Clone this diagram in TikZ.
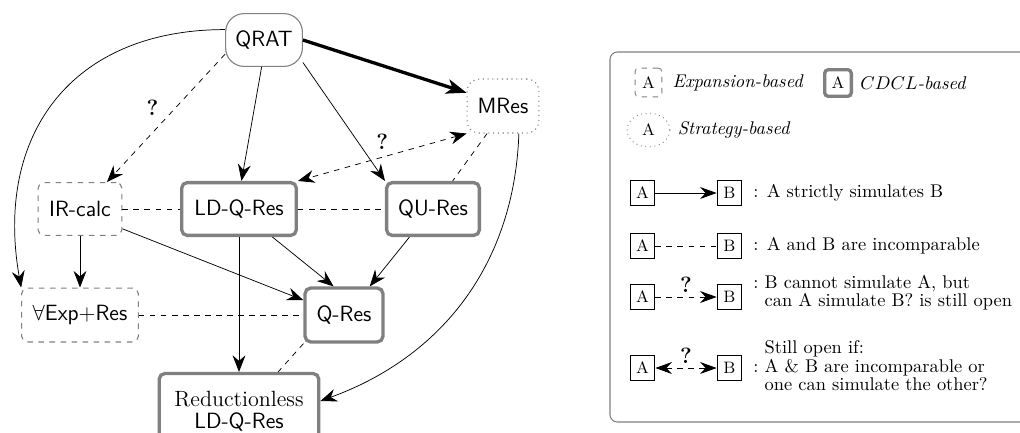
\documentclass[tikz,border=0pt]{standalone}
\usetikzlibrary{arrows.meta, shapes.geometric, positioning}
\renewcommand{\arraystretch}{0.78}

\begin{document}
\begin{tikzpicture}[x=0.0191cm, y=0.0191cm,
            sys/.style={draw=gray, rounded corners=3pt, minimum height=28.7pt, inner xsep=3pt, font=\large\sffamily},
            cdcl/.style={sys, line width=1.8pt},
            expan/.style={sys, dashed, line width=0.6pt},
            strat/.style={sys, dotted, line width=0.6pt, rounded corners=6.5pt},
            sim/.style={-{Stealth[length=9pt, width=7pt, inset=3pt]}},
            qopen/.style={dashed, arrows={Stealth[length=9pt, width=7pt, inset=3pt]-Stealth[length=9pt, width=7pt, inset=3pt]}},
            qmark/.style={font=\large\bfseries, inner sep=1pt},
            key/.style={draw, line width=0.5pt, font=\small, inner sep=0pt, minimum size=13.5pt},
            lsim/.style={-{Stealth[length=9pt, width=6.5pt, inset=3pt]}},
            lboth/.style={arrows={Stealth[length=9pt, width=6.5pt, inset=3pt]-Stealth[length=9pt, width=6.5pt, inset=3pt]}}]
        \useasboundingbox (0,0) rectangle (1020,432);

        % proof systems
        \node[sys, line width=0.6pt, rounded corners=10pt, minimum width=41.7pt] (qrat) at (264,392) {QRAT};
        \node[strat, minimum width=39pt, minimum height=29.3pt] (mres) at (503,326) {MRes};
        \node[expan, minimum width=45.5pt] (ircalc) at (80,223) {IR-calc};
        \node[cdcl, minimum width=62.3pt] (ldq) at (239,223) {LD-Q-Res};
        \node[cdcl, minimum width=50.4pt] (qures) at (433,223) {QU-Res};
        \node[expan, minimum width=63.4pt, minimum height=29.3pt] (aexp) at (80,117) {$\forall$Exp+Res};
        \node[cdcl, minimum width=42.3pt, minimum height=29.3pt] (qres) at (344,117) {Q-Res};
        \node[cdcl, align=center, font=\fontsize{12}{11.8}\selectfont, minimum width=86.7pt, minimum height=40.7pt] (redl) at (239,21) {Reductionless\\\textsf{LD-Q-Res}};

        % simulations
        \draw[line width=1.8pt, -{Stealth[length=11pt, width=8pt, inset=3pt]}] (qrat.east) -- (mres.160);
        \draw[sim, dashed] (qrat.200) -- node[qmark, above left=0pt and 3pt] {?} (ircalc.45);
        \draw[sim] (qrat.265) -- (ldq.85);
        \draw[sim] (qrat.-30) -- (qures.north west);
        \draw[sim] (qrat.165) to[out=180, in=100, looseness=1.2] (aexp.north west);
        \draw[qopen] (mres.south west) -- node[qmark, above=3pt] {?} (ldq.north east);
        \draw[dashed] (mres.-120) -- (qures.55);
        \draw[sim] (mres.-60) to[out=-92, in=20] (redl.7);
        \draw[dashed] (ircalc) -- (ldq);
        \draw[dashed] (ldq) -- (qures);
        \draw[sim] (ircalc) -- (aexp);
        \draw[sim] (ircalc.-25) -- (qres.160);
        \draw[sim] (ldq.-40) -- (qres.110);
        \draw[sim] (qures.-130) -- (qres.48);
        \draw[sim] (ldq) -- (redl);
        \draw[dashed] (aexp) -- (qres);
        \draw[dashed] (qres.south west) -- (redl.45);

        % legend
        \draw[gray, line width=0.6pt, rounded corners=4pt] (610,10) rectangle (1040,380);
        \node[key, draw=gray, dashed, rounded corners=2pt, minimum width=14.6pt, minimum height=15.7pt] (kexp) at (648.5,349.5) {A};
        \node[right=2pt of kexp] {\textit{Expansion-based}};
        \node[key, draw=gray, line width=1.8pt, rounded corners=2pt, minimum size=14.5pt] (kcdcl) at (838,349) {A};
        \node[right=0.5pt of kcdcl] {$CDCL$\textit{-based}};
        \node[key, draw=gray, dotted, ellipse, minimum width=23.3pt, minimum height=18.4pt] (kstrat) at (648.5,302) {A};
        \node[right=0.5pt of kstrat] {\textit{Strategy-based}};

        \node[key] (a1) at (642.5,239) {A};
        \node[key] (b1) at (729.5,239) {B};
        \draw[lsim] (a1) -- (b1);
        \node[right=2.5pt of b1] {: A strictly simulates B};

        \node[key] (a2) at (642.5,186) {A};
        \node[key] (b2) at (729.5,186) {B};
        \draw[dashed] (a2) -- (b2);
        \node[right=2.5pt of b2] {: A and B are incomparable};

        \node[key] (a3) at (642.5,135) {A};
        \node[key] (b3) at (729.5,135) {B};
        \draw[lsim, dashed] (a3) -- node[qmark, above=1pt] {?} (b3);
        \node[right=2.5pt of b3, yshift=2pt] {:~\begin{tabular}[t]{@{}l@{}}B cannot simulate A, but\\can A simulate B? is still open\end{tabular}};

        \node[key] (a4) at (642.5,64) {A};
        \node[key] (b4) at (729.5,64) {B};
        \draw[lboth, dashed] (a4) -- node[qmark, above=1pt] {?} (b4);
        \node[right=2.5pt of b4] {:~\begin{tabular}{@{}l@{}}Still open if:\\A \& B are incomparable or\\one can simulate the other?\end{tabular}};
\end{tikzpicture}
\end{document}
